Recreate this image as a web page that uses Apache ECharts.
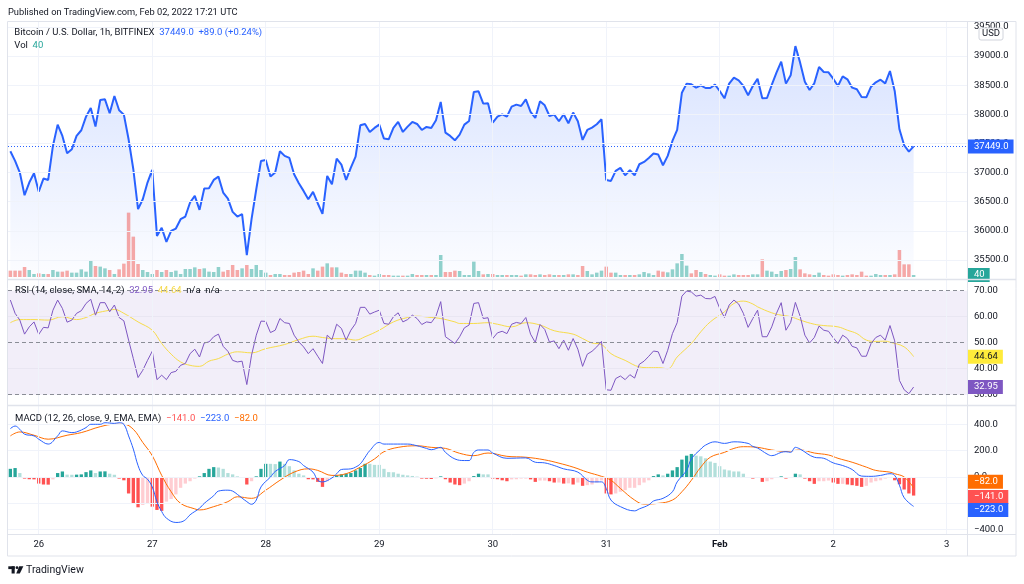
<!DOCTYPE html>
<html><head><meta charset="utf-8">
<script src="https://cdn.jsdelivr.net/npm/echarts@6/dist/echarts.min.js"></script>
<style>html,body{margin:0;padding:0;background:#fff}#c{width:1024px;height:584px}</style>
</head><body><div id="c"></div>
<script>
// ---- data (hourly bars, hour index relative to Jan 26 00:00 UTC) ----
const dayLabels = ['26','27','28','29','30','31','Feb','2','3'];
const firstHour = -6;
const totalSlots = 203;

const price = [
 37366,37200,37000,36612,36829,36989,36674,36897,36874,37457,
 37823,37629,37331,37400,37629,37726,37960,38109,37789,38246,
 38257,38017,38314,38069,37994,37571,37057,36372,36543,36829,
 37046,35914,36052,35812,36000,36040,36200,36246,36486,36600,
 36360,36726,36731,36874,36931,36657,36554,36326,36246,36286,
 35583,36200,36714,37200,37217,36931,37000,37366,37286,37251,
 36971,36817,36686,36543,36669,36474,36292,36943,36800,37240,
 37137,36874,37086,37274,37811,37834,37697,37766,37823,37583,
 37571,37766,37869,37697,37789,37869,37834,37731,37783,37766,
 37897,38211,37686,37629,37554,37651,37823,37886,38383,38394,
 38183,38189,37857,37960,38000,37960,38131,38166,38143,38257,
 38040,37937,38223,38154,37971,37994,37880,38000,37846,38029,
 37880,37560,37731,37771,37829,37914,36874,36857,37029,37080,
 36954,37040,36954,37143,37183,37251,37326,37309,37126,37286,
 37543,37731,38371,38526,38514,38457,38497,38451,38451,38509,
 38400,38274,38526,38629,38583,38486,38326,38486,38611,38274,
 38280,38503,38714,38903,38526,38669,39171,38886,38560,38417,
 38531,38811,38726,38720,38611,38486,38651,38600,38457,38429,
 38297,38291,38474,38549,38594,38531,38743,38400,37743,37469,
 37360,37449
];
const volume = [
 127,127,127,200,140,60,73,60,60,140,
 107,107,127,87,87,153,107,320,220,207,
 173,140,60,153,267,1287,807,260,140,100,
 60,140,100,140,100,127,60,160,160,193,
 160,173,107,100,200,107,140,240,140,173,
 240,160,240,140,87,40,60,60,40,40,
 87,100,127,60,173,127,207,273,193,193,
 87,60,60,127,127,87,40,27,60,40,
 40,27,27,27,27,60,40,40,40,40,
 40,440,100,100,127,120,40,40,307,120,
 53,60,60,40,40,40,40,40,27,53,
 53,40,53,40,53,40,40,40,53,53,
 40,220,120,53,87,127,207,87,87,40,
 40,40,40,53,100,73,40,127,107,93,
 153,273,460,227,73,140,100,60,40,27,
 53,27,27,53,40,40,40,53,53,353,
 127,107,60,120,140,160,400,153,73,53,
 40,87,40,27,53,40,27,40,53,40,
 107,27,27,60,40,40,40,53,540,253,
 253,40
];
const rsi = [
 66.4,61.3,58.7,53.3,56.1,58.0,53.2,55.9,55.7,62.5,
 66.4,63.2,57.9,58.7,61.3,62.3,65.1,66.7,60.6,65.4,
 65.4,61.9,64.5,59.7,58.4,51.0,43.9,36.6,39.4,43.2,
 46.7,35.8,37.5,35.8,38.5,39.0,41.3,42.0,45.8,47.5,
 44.5,49.9,50.3,52.3,53.3,48.6,46.7,43.2,42.6,42.9,
 33.9,45.2,52.9,58.3,58.2,53.9,54.8,59.3,57.7,57.4,
 52.9,50.3,48.4,45.8,47.7,44.8,42.0,52.9,51.2,57.1,
 55.5,51.0,54.8,57.4,63.6,63.6,61.0,61.8,62.5,57.4,
 57.1,60.0,61.5,58.0,58.9,60.6,59.3,57.0,58.0,57.7,
 60.2,65.8,52.3,51.0,49.7,52.3,55.7,56.8,65.1,65.4,
 59.3,59.6,51.6,53.8,54.4,53.5,57.1,57.8,57.4,59.7,
 53.3,50.1,57.0,55.1,50.2,50.7,47.7,51.0,47.1,51.6,
 47.5,40.9,45.6,46.7,48.4,50.5,31.9,31.7,36.2,37.2,
 35.8,37.7,36.4,41.7,42.9,44.8,46.8,46.5,42.0,47.1,
 53.5,57.7,67.9,69.9,69.5,67.9,68.3,67.0,66.9,67.8,
 63.2,59.7,64.5,66.4,64.9,61.3,55.9,59.3,62.5,52.3,
 52.3,56.1,61.3,65.4,54.8,57.8,65.5,60.2,52.9,49.9,
 52.0,56.4,54.8,54.4,51.9,49.7,52.9,51.6,48.6,48.0,
 44.8,44.8,49.7,52.0,52.9,51.0,56.6,50.7,35.5,31.9,
 30.4,32.95
];
// smooth series read at sample hours: [hour, value]
const rsiMA = [[-6,57.7],[-4,58.9],[-1,58.9],[2,58.7],[5,60.0],[8,58.9],[10,59.7],[12,61.3],[15,62.5],[16,62.8],[18,61.3],[21,58.0],[24,54.8],[26,49.7],[28,45.6],[30,42.6],[32,41.3],[34,40.9],[36,42.9],[38,43.9],[40,45.6],[42,46.5],[45,46.1],[48,47.7],[52,49.3],[55,51.2],[58,52.5],[60,52.0],[62,51.6],[65,51.5],[67,51.0],[69,52.3],[72,54.8],[75,58.0],[78,59.7],[80,60.2],[83,59.7],[85,59.3],[88,58.0],[89,57.4],[92,57.4],[95,57.7],[97,57.1],[100,56.1],[103,57.7],[106,56.8],[109,54.6],[113,53.3],[115,51.6],[117,49.9],[119,49.3],[121,45.8],[124,43.2],[127,40.7],[129,40.4],[131,40.4],[133,40.0],[135,44.5],[138,49.7],[140,54.2],[142,58.0],[145,61.9],[147,65.1],[149,66.0],[151,64.9],[152,63.8],[155,61.5],[157,60.6],[159,60.0],[161,58.7],[164,57.1],[166,56.6],[169,56.1],[171,54.8],[173,53.5],[175,51.0],[177,50.5],[179,50.6],[180,50.2],[183,48.4],[185,44.64]];
const macdLine = [[-6,367],[-5,387],[-4,362],[-3,325],[-1,312],[0,287],[2,250],[4,312],[5,350],[7,337],[8,342],[10,375],[11,400],[13,400],[14,412],[16,407],[17,412],[18,400],[19,312],[20,212],[21,87],[22,12],[23,-17],[24,-75],[25,-187],[26,-262],[27,-312],[29,-345],[30,-342],[31,-325],[32,-287],[34,-237],[35,-200],[37,-142],[38,-107],[40,-100],[41,-107],[42,-132],[44,-187],[45,-207],[46,-175],[47,-75],[49,0],[50,42],[52,87],[53,132],[55,117],[56,87],[58,37],[59,-25],[60,-37],[62,-7],[63,25],[64,57],[66,62],[67,75],[68,100],[69,150],[70,200],[72,262],[73,250],[75,250],[78,250],[80,237],[82,217],[83,207],[85,225],[86,187],[88,137],[90,125],[91,125],[92,187],[93,205],[95,205],[96,182],[99,142],[103,145],[105,112],[107,107],[109,87],[111,62],[114,37],[116,-25],[117,-37],[119,-37],[120,-87],[121,-175],[123,-225],[126,-257],[127,-242],[129,-212],[130,-182],[132,-162],[134,-112],[135,-37],[137,50],[138,137],[140,212],[141,242],[143,267],[145,255],[147,267],[150,255],[151,232],[152,220],[154,175],[155,162],[157,187],[158,192],[159,187],[160,225],[161,212],[164,150],[166,142],[168,107],[170,87],[172,57],[174,7],[176,5],[178,12],[180,25],[181,12],[182,-62],[183,-157],[185,-223]];
const signalLine = [[-6,312],[-4,342],[-1,317],[2,287],[6,317],[9,337],[13,382],[16,400],[18,400],[20,362],[22,262],[24,162],[26,12],[28,-112],[30,-200],[33,-242],[34,-250],[37,-225],[40,-187],[42,-150],[45,-162],[48,-100],[51,-25],[54,37],[57,62],[59,50],[62,12],[65,25],[68,75],[71,137],[73,192],[76,225],[80,237],[83,225],[86,217],[89,180],[92,162],[95,182],[99,157],[103,150],[107,130],[110,105],[113,75],[116,37],[119,5],[121,-25],[123,-87],[126,-175],[128,-205],[131,-200],[134,-175],[136,-112],[138,-25],[140,75],[142,150],[145,187],[147,217],[149,230],[152,225],[155,205],[158,195],[161,205],[164,182],[167,167],[169,142],[172,112],[175,75],[177,50],[180,37],[181,25],[183,0],[185,-82]];
const histogram = [
 62,68,30,-12,-17,-18,-50,-57,-58,-18,
 30,42,18,17,18,20,37,50,30,42,
 43,25,17,-12,-25,-125,-200,-230,-212,-200,
 -225,-250,-257,-187,-167,-132,-82,-50,-32,-12,
 5,30,62,75,72,62,30,20,5,-5,
 -57,-32,5,62,100,100,98,117,100,82,
 50,25,12,-17,-18,-37,-75,-32,-5,12,
 20,25,30,50,68,100,100,92,92,62,
 37,36,25,17,12,8,3,-12,-13,-15,
 -10,5,-17,-42,-57,-62,-50,-32,7,25,
 20,20,-12,-17,-25,-32,-18,-17,-12,-12,
 -18,-37,-27,-27,-32,-42,-42,-50,-48,-57,
 -42,-67,-62,-57,-42,-25,-125,-132,-125,-112,
 -100,-82,-82,-62,-42,-25,7,20,12,25,
 50,75,132,162,175,162,157,142,117,107,
 82,57,50,42,42,25,-7,-12,-7,-37,
 -32,-17,-7,5,-12,-7,25,20,-12,-32,
 -52,-32,-32,-27,-42,-52,-52,-57,-62,-67,
 -75,-67,-42,-32,-25,-12,-7,-25,-55,-95,
 -125,-141
];
const priceTicks = [35500,36000,36500,37000,37500,38000,38500,39000,39500];
const rsiTicks = [30,40,50,60,70];
const rsiLevels = [70,50,30];
const macdTicks = [-400,-200,0,200,400];

// ---- chart ----
const FONT = 'Roboto, "Liberation Sans", sans-serif';
const TXT = '#131722';
const GRIDC = '#f0f3fa';
const FS = 9.5;
const CLEAR = 'rgba(0,0,0,0)';

const cats = [];
for (let k = 0; k < totalSlots; k++) cats.push('t' + (k + firstHour));
const dayCats = dayLabels.map((_, d) => 't' + d * 24);
const pair = arr => arr.map(([h, v]) => ['t' + h, v]);
const minus = v => (v < 0 ? '\u2212' : '') + Math.abs(v);

function hLine(v, color, type) {
  return {yAxis: v, lineStyle: {color: color, type: type || 'solid', width: 1}, label: {show: false}};
}
function vLines() {
  return dayCats.map(c => ({xAxis: c, lineStyle: {color: GRIDC, type: 'solid', width: 1}, label: {show: false}}));
}
function tag(v, text, bg, fg, dy, line) {
  return {
    yAxis: v,
    lineStyle: line || {color: CLEAR, width: 1},
    label: {show: true, position: 'end', formatter: text, backgroundColor: bg, color: fg, opacity: 1,
      padding: [2, 5, 1, 6], fontSize: FS, fontFamily: FONT, lineHeight: 11, distance: 0, offset: [0, dy || 0]}
  };
}
const ML = (data) => ({silent: true, symbol: ['none', 'none'], animation: false, data: data});

function xAx(g, showLabels) {
  const ax = {type: 'category', gridIndex: g, data: cats, boundaryGap: true,
    axisLine: {show: false}, axisTick: {show: false}, splitLine: {show: false}, axisLabel: {show: false}};
  if (showLabels) {
    ax.axisLabel = {
      show: true, margin: 6, color: TXT, fontSize: FS, fontFamily: FONT,
      interval: (idx) => (idx + firstHour) % 24 === 0,
      formatter: (val) => { const d = dayLabels[(+val.slice(1)) / 24]; return d === 'Feb' ? '{b|Feb}' : d; },
      rich: {b: {fontWeight: 'bold', fontSize: FS, fontFamily: FONT, color: TXT}}
    };
  }
  return ax;
}
function yAx(g, min, max, ticks, fmt) {
  return {type: 'value', gridIndex: g, position: 'right', min: min, max: max, scale: true,
    axisLine: {show: false}, axisTick: {show: false}, splitLine: {show: false},
    axisLabel: ticks ? {show: true, customValues: ticks, formatter: fmt, color: TXT, fontSize: FS, fontFamily: FONT, margin: 6} : {show: false}};
}

const up = price.map((p, i) => i > 0 && p >= price[i - 1]);
const volData = volume.map((v, i) => ({value: v, itemStyle: {color: up[i] ? 'rgba(38,166,154,0.5)' : 'rgba(239,83,80,0.5)'}}));
const histData = histogram.map((v, i) => {
  const prev = i > 0 ? histogram[i - 1] : (v >= 0 ? -Infinity : Infinity);
  let c;
  if (v >= 0) c = v > prev ? '#26a69a' : '#b2dfdb';
  else c = v < prev ? '#ff5252' : '#ffcdd2';
  return {value: v, itemStyle: {color: c}};
});

const lastPrice = price[price.length - 1];
const lastVol = volume[volume.length - 1];
const lastRsi = rsi[rsi.length - 1];
const lastMA = rsiMA[rsiMA.length - 1][1];
const lastMacd = macdLine[macdLine.length - 1][1];
const lastSig = signalLine[signalLine.length - 1][1];
const lastHist = histogram[histogram.length - 1];

const chart = echarts.init(document.getElementById('c'));
chart.setOption({
  animation: false,
  backgroundColor: '#ffffff',
  textStyle: {fontFamily: FONT},
  grid: [
    {left: 8, top: 21, width: 960, height: 257, outerBoundsMode: 'none'},
    {left: 8, top: 177, width: 960, height: 100, outerBoundsMode: 'none'},
    {left: 8, top: 280, width: 960, height: 125, outerBoundsMode: 'none'},
    {left: 8, top: 406, width: 960, height: 128, outerBoundsMode: 'none'}
  ],
  xAxis: [xAx(0), xAx(1), xAx(2), xAx(3, true)],
  yAxis: [
    yAx(0, 35191.4, 39600.5, priceTicks, v => v.toFixed(1)),
    yAx(1, 0, 2000, null),
    yAx(2, 26.04, 74.12, rsiTicks, v => v.toFixed(2)),
    yAx(3, -432.6, 538.9, macdTicks, v => minus(v) + '.0')
  ],
  series: [
    {
      type: 'line', xAxisIndex: 0, yAxisIndex: 0, data: price, showSymbol: false, z: 3,
      lineStyle: {color: '#2962ff', width: 2}, itemStyle: {color: '#2962ff'},
      areaStyle: {origin: 'start', color: new echarts.graphic.LinearGradient(0, 0, 0, 1, [
        {offset: 0, color: 'rgba(41,98,255,0.26)'}, {offset: 1, color: 'rgba(41,98,255,0.02)'}])},
      markLine: ML([].concat(
        priceTicks.map(v => hLine(v, GRIDC)),
        vLines(),
        [tag(lastPrice, lastPrice.toFixed(1), '#2962ff', '#ffffff', 0, {color: '#2962ff', type: [1, 2], width: 1})]
      ))
    },
    {
      type: 'bar', xAxisIndex: 1, yAxisIndex: 1, data: volData, barWidth: '74%', z: 4,
      markLine: ML([tag(lastVol, String(lastVol), '#26a69a', '#ffffff', 0)])
    },
    {
      type: 'line', xAxisIndex: 2, yAxisIndex: 2, data: rsi, showSymbol: false, z: 4,
      lineStyle: {color: '#7e57c2', width: 1}, itemStyle: {color: '#7e57c2'},
      markArea: {silent: true, itemStyle: {color: 'rgba(126,87,194,0.1)'}, data: [[{yAxis: 30}, {yAxis: 70}]]},
      markLine: ML([].concat(
        [60, 40].map(v => hLine(v, '#e9e6f2')),
        vLines(),
        rsiLevels.map(v => hLine(v, '#8a8d96', [4, 3])),
        [tag(lastRsi, lastRsi.toFixed(2), '#7e57c2', '#ffffff', 0)]
      ))
    },
    {
      type: 'line', xAxisIndex: 2, yAxisIndex: 2, data: pair(rsiMA), showSymbol: false, smooth: 0.4, z: 3,
      lineStyle: {color: '#f7dc4a', width: 1}, itemStyle: {color: '#f7dc4a'},
      markLine: ML([tag(lastMA, lastMA.toFixed(2), '#ffeb3b', TXT, 0)])
    },
    {
      type: 'bar', xAxisIndex: 3, yAxisIndex: 3, data: histData, barWidth: '70%', z: 3,
      markLine: ML([].concat(
        macdTicks.map(v => hLine(v, GRIDC)),
        vLines(),
        [tag(lastHist, minus(lastHist) + '.0', '#ff5252', '#ffffff', 1.5)]
      ))
    },
    {
      type: 'line', xAxisIndex: 3, yAxisIndex: 3, data: pair(macdLine), showSymbol: false, smooth: 0.4, z: 5,
      lineStyle: {color: '#2962ff', width: 1}, itemStyle: {color: '#2962ff'},
      markLine: ML([tag(lastMacd, minus(lastMacd) + '.0', '#2962ff', '#ffffff', 3.6)])
    },
    {
      type: 'line', xAxisIndex: 3, yAxisIndex: 3, data: pair(signalLine), showSymbol: false, smooth: 0.4, z: 4,
      lineStyle: {color: '#ff6d00', width: 1}, itemStyle: {color: '#ff6d00'},
      markLine: ML([tag(lastSig, minus(lastSig) + '.0', '#ff6d00', '#ffffff', -6)])
    }
  ],
  graphic: [
    {type: 'rect', z: 50, silent: true, shape: {x: 7.5, y: 21.5, width: 1008.5, height: 534.5}, style: {fill: null, stroke: '#e0e3eb', lineWidth: 1}},
    {type: 'line', z: 50, silent: true, shape: {x1: 7.5, y1: 279.5, x2: 1016, y2: 279.5}, style: {stroke: '#e0e3eb', lineWidth: 1.5}},
    {type: 'line', z: 50, silent: true, shape: {x1: 7.5, y1: 405.5, x2: 1016, y2: 405.5}, style: {stroke: '#e0e3eb', lineWidth: 1.5}},
    {type: 'line', z: 50, silent: true, shape: {x1: 7.5, y1: 534.5, x2: 1016, y2: 534.5}, style: {stroke: '#e0e3eb', lineWidth: 1}},
    {type: 'line', z: 50, silent: true, shape: {x1: 967.5, y1: 21.5, x2: 967.5, y2: 556}, style: {stroke: '#e0e3eb', lineWidth: 1}},
    {type: 'rect', z: 60, silent: true, shape: {x: 979, y: 28, width: 24, height: 12, r: 2}, style: {fill: '#ffffff', stroke: '#d1d4dc', lineWidth: 1}},
    {type: 'text', z: 61, silent: true, x: 991, y: 34, style: {text: 'USD', fill: TXT, fontSize: FS, fontFamily: FONT, align: 'center', verticalAlign: 'middle'}},
    {type: 'text', z: 61, silent: true, x: 8, y: 12.5, style: {text: 'Published on TradingView.com, Feb 02, 2022 17:21 UTC', fill: TXT, fontSize: 9.3, fontFamily: FONT, verticalAlign: 'middle'}},
    {type: 'text', z: 61, silent: true, x: 14.3, y: 33, style: {
      text: 'Bitcoin / U.S. Dollar, 1h, BITFINEX  {b|37449.0}  {b|+89.0 (+0.24%)}', fill: TXT, fontSize: FS, fontFamily: FONT, verticalAlign: 'middle',
      rich: {b: {fill: '#2962ff', fontSize: FS, fontFamily: FONT}}}},
    {type: 'text', z: 61, silent: true, x: 14.3, y: 45.7, style: {
      text: 'Vol  {g|40}', fill: TXT, fontSize: FS, fontFamily: FONT, verticalAlign: 'middle',
      rich: {g: {fill: '#26a69a', fontSize: FS, fontFamily: FONT}}}},
    {type: 'text', z: 61, silent: true, x: 15, y: 290.5, style: {
      text: 'RSI (14, close, SMA, 14, 2)  {p|32.95}  {y|44.64}  n/a  n/a', fill: TXT, fontSize: FS, fontFamily: FONT, verticalAlign: 'middle',
      rich: {p: {fill: '#7e57c2', fontSize: FS, fontFamily: FONT}, y: {fill: '#f5d94a', fontSize: FS, fontFamily: FONT}}}},
    {type: 'text', z: 61, silent: true, x: 15, y: 418.3, style: {
      text: 'MACD (12, 26, close, 9, EMA, EMA)  {r|\u2212141.0}  {b|\u2212223.0}  {o|\u221282.0}', fill: TXT, fontSize: FS, fontFamily: FONT, verticalAlign: 'middle',
      rich: {r: {fill: '#ff5252', fontSize: FS, fontFamily: FONT}, b: {fill: '#2962ff', fontSize: FS, fontFamily: FONT}, o: {fill: '#ff6d00', fontSize: FS, fontFamily: FONT}}}},
    {type: 'rect', z: 61, silent: true, shape: {x: 8.3, y: 566.3, width: 6.4, height: 2.8}, style: {fill: TXT}},
    {type: 'rect', z: 61, silent: true, shape: {x: 11.6, y: 566.3, width: 3.1, height: 7.2}, style: {fill: TXT}},
    {type: 'circle', z: 61, silent: true, shape: {cx: 17, cy: 567.7, r: 1.4}, style: {fill: TXT}},
    {type: 'polygon', z: 61, silent: true, shape: {points: [[19.2, 566.3], [23.4, 566.3], [19.8, 573.5], [16.2, 573.5]]}, style: {fill: TXT}},
    {type: 'text', z: 61, silent: true, x: 26, y: 570.5, style: {text: 'TradingView', fill: TXT, fontSize: 10.5, fontFamily: FONT, verticalAlign: 'middle'}}
  ]
});
</script>
</body></html>
